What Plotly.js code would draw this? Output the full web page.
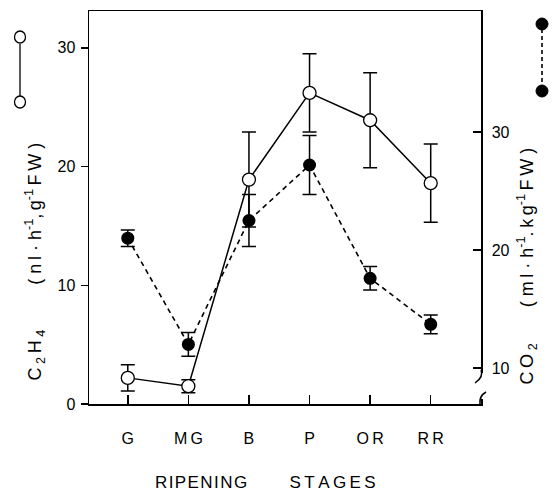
<!DOCTYPE html>
<html>
<head>
<meta charset="utf-8">
<script src="https://cdn.plot.ly/plotly-3.0.1.min.js"></script>
<style>html,body{margin:0;padding:0;background:#fff;}</style>
</head>
<body>
<div id="chart" style="width:552px;height:503px;"></div>
<script>
// ---- data ----
const stages = ["G", "M\u2009G", "B", "P", "O\u2009R", "R\u2009R"];
const stageIdx = [0, 1, 2, 3, 4, 5];
const c2h4 = [2.2, 1.5, 18.9, 26.2, 23.9, 18.6];      // nl h-1 g-1 FW (left axis)
const c2h4Err = [1.1, 0.55, 4.0, 3.3, 4.0, 3.3];
const co2 = [21.0, 12.0, 22.5, 27.2, 17.6, 13.7];     // ml h-1 kg-1 FW (right axis)
const co2Err = [0.7, 1.0, 2.2, 2.5, 1.0, 0.8];
const leftTicks = [0, 10, 20, 30];
const rightTicks = [10, 20, 30];

// ---- layout geometry (pixels) ----
const W = 552, H = 503;
const L = 89, R = 481, T = 11, B = 404;
const px = x => (x - L) / (R - L);
const py = y => (B - y) / (B - T);
const FONT = "Liberation Sans, Arial, sans-serif";
const sp = s => s.split("").join("\u2009");
const hs = s => s.split("").join("\u200A");

const traces = [
  {
    x: stageIdx, y: c2h4, type: "scatter", mode: "lines+markers",
    line: {color: "#000", width: 1.5},
    marker: {symbol: "circle", size: 13, color: "#fff", line: {color: "#000", width: 1.3}},
    error_y: {type: "data", array: c2h4Err, visible: true, color: "#000", thickness: 1.5, width: 7},
    yaxis: "y", cliponaxis: false, showlegend: false
  },
  {
    x: stageIdx, y: co2, type: "scatter", mode: "lines+markers",
    line: {color: "#000", width: 1.6, dash: "5px,4px"},
    marker: {symbol: "circle", size: 13, color: "#000"},
    error_y: {type: "data", array: co2Err, visible: true, color: "#000", thickness: 1.5, width: 7},
    yaxis: "y2", cliponaxis: false, showlegend: false
  }
];

const shapes = [
  // break on right axis
  {type: "rect", xref: "paper", yref: "paper", x0: px(476), x1: px(487), y0: py(399), y1: py(373),
   fillcolor: "#fff", line: {width: 0}, layer: "above"},
  {type: "path", xref: "paper", yref: "paper", layer: "above",
   path: `M ${px(481)},${py(370)} Q ${px(484)},${py(377)} ${px(475)},${py(383)}`,
   line: {color: "#000", width: 1.5}},
  {type: "path", xref: "paper", yref: "paper", layer: "above",
   path: `M ${px(486)},${py(392)} Q ${px(479)},${py(396)} ${px(480)},${py(404)}`,
   line: {color: "#000", width: 1.5}},
  // left legend symbol  o---o
  {type: "line", xref: "paper", yref: "paper", x0: px(20), x1: px(20), y0: py(44), y1: py(100),
   line: {color: "#000", width: 1.3}},
  {type: "circle", xref: "paper", yref: "paper", x0: px(14.5), x1: px(25.5), y0: py(31), y1: py(43),
   fillcolor: "#fff", line: {color: "#000", width: 1.3}},
  {type: "circle", xref: "paper", yref: "paper", x0: px(14.5), x1: px(25.5), y0: py(96), y1: py(108),
   fillcolor: "#fff", line: {color: "#000", width: 1.3}},
  // right legend symbol  *- - -*
  {type: "line", xref: "paper", yref: "paper", x0: px(542), x1: px(542), y0: py(29), y1: py(90),
   line: {color: "#000", width: 1.6, dash: "4px,3px"}},
  {type: "circle", xref: "paper", yref: "paper", x0: px(536), x1: px(548), y0: py(18), y1: py(30),
   fillcolor: "#000", line: {color: "#000", width: 1}},
  {type: "circle", xref: "paper", yref: "paper", x0: px(536), x1: px(548), y0: py(85), y1: py(97),
   fillcolor: "#000", line: {color: "#000", width: 1}}
];

const annotations = [
  {xref: "paper", yref: "paper", x: px(20), y: py(262), textangle: -90, showarrow: false,
   text: "C\u2009<sub>2</sub>\u2009H\u2009<sub>4</sub>\u2003\u2003\u2002( " + sp("nl") + " · " + "h<sup>-1</sup>,\u2009g<sup>-1</sup>\u2009" + sp("FW") + " )",
   font: {family: FONT, size: 18, color: "#000"}},
  {xref: "paper", yref: "paper", x: px(541), y: py(266), textangle: -90, showarrow: false,
   text: "C\u2009O\u2009<sub>2</sub>\u2003\u2003( " + sp("ml") + " · h<sup>-1</sup>.\u2009" + sp("kg") + "<sup>-1</sup>\u2009" + sp("FW") + " )",
   font: {family: FONT, size: 18, color: "#000"}},
  {xref: "paper", yref: "paper", x: px(265), y: py(494), showarrow: false,
   text: hs("RIPENING") + "\u2003\u2003\u2002" + sp("STAGES"),
   font: {family: FONT, size: 17, color: "#000"}}
];

const layout = {
  width: W, height: H,
  margin: {l: L, r: W - R, t: T, b: H - B, pad: 0},
  paper_bgcolor: "#fff", plot_bgcolor: "#fff",
  font: {family: FONT, size: 16, color: "#000"},
  showlegend: false,
  xaxis: {
    range: [-0.64, 5.83], tickvals: stageIdx, ticktext: stages,
    showgrid: false, zeroline: false,
    showline: true, mirror: true, linecolor: "#000", linewidth: 1.5,
    ticks: "inside", ticklen: 9, tickwidth: 1.5, tickcolor: "#000",
    ticklabelstandoff: 19
  },
  yaxis: {
    range: [0, 33.1], tickvals: leftTicks,
    showgrid: false, zeroline: false,
    showline: true, linecolor: "#000", linewidth: 1.5,
    ticks: "outside", ticklen: 7, tickwidth: 1.5, tickcolor: "#000",
    ticklabelstandoff: 2
  },
  yaxis2: {
    range: [6.95, 40.25], tickvals: rightTicks, overlaying: "y", side: "right",
    showgrid: false, zeroline: false,
    showline: true, linecolor: "#000", linewidth: 1.5,
    ticks: "inside", ticklen: 8, tickwidth: 1.5, tickcolor: "#000",
    ticklabelstandoff: 6
  },
  shapes: shapes,
  annotations: annotations
};

Plotly.newPlot("chart", traces, layout, {staticPlot: true, displayModeBar: false});
</script>
</body>
</html>
